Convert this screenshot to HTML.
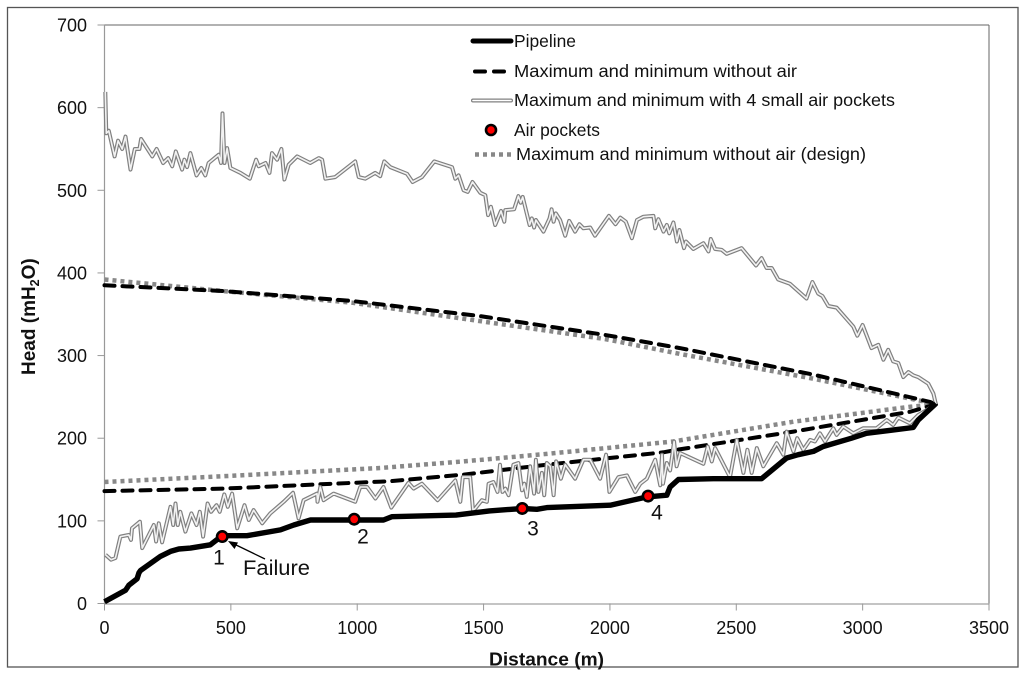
<!DOCTYPE html>
<html lang="en">
<head>
<meta charset="utf-8">
<title>Head versus distance along pipeline</title>
<style>
  html, body { margin: 0; padding: 0; background: #fff; }
  svg { display: block; font-family: "Liberation Sans", sans-serif; fill: #111; }
</style>
</head>
<body>
<svg id="chart" width="1024" height="676" viewBox="0 0 1024 676" xmlns="http://www.w3.org/2000/svg">
  <rect x="0" y="0" width="1024" height="676" fill="#fff"/>
  <rect x="7.5" y="7.5" width="1010.5" height="659.5" fill="none" stroke="#555" stroke-width="1.3"/>
  <g id="axes"></g>
  <g id="series"></g>

  <text x="489" y="665.5" font-size="18.5" font-weight="bold" textLength="115" lengthAdjust="spacingAndGlyphs">Distance (m)</text>
  <text transform="translate(35,375) rotate(-90)" font-size="19" font-weight="bold">Head (mH<tspan font-size="12.5" dy="4">2</tspan><tspan dy="-4">O)</tspan></text>

  <g>
    <line x1="473" y1="41" x2="511" y2="41" stroke="#000" stroke-width="5" stroke-linecap="round"/>
    <text x="514" y="47" font-size="17.5" textLength="62" lengthAdjust="spacingAndGlyphs">Pipeline</text>
    <line x1="475" y1="71.5" x2="510" y2="71.5" stroke="#000" stroke-width="4" stroke-linecap="round" stroke-dasharray="10 9"/>
    <text x="514" y="77" font-size="17.5" textLength="283" lengthAdjust="spacingAndGlyphs">Maximum and minimum without air</text>
    <line x1="473" y1="100.5" x2="511" y2="100.5" stroke="#808080" stroke-width="4" stroke-linecap="round"/>
    <line x1="473" y1="100.5" x2="511" y2="100.5" stroke="#fff" stroke-width="1.6" stroke-linecap="round"/>
    <text x="514" y="106" font-size="17.5" textLength="381" lengthAdjust="spacingAndGlyphs">Maximum and minimum with 4 small air pockets</text>
    <circle cx="491" cy="130" r="5" fill="#f00" stroke="#000" stroke-width="2.6"/>
    <text x="514" y="136" font-size="17.5" textLength="86" lengthAdjust="spacingAndGlyphs">Air pockets</text>
    <line x1="475" y1="154.5" x2="513" y2="154.5" stroke="#888" stroke-width="4.5" stroke-dasharray="4 4"/>
    <text x="516" y="160" font-size="17.5" textLength="350" lengthAdjust="spacingAndGlyphs">Maximum and minimum without air (design)</text>
  </g>

  <g>
    <text x="243" y="575" font-size="21" textLength="67" lengthAdjust="spacingAndGlyphs">Failure</text>
    <line x1="265" y1="559" x2="232" y2="543" stroke="#000" stroke-width="1.3"/>
    <polygon points="228,541 238,542.5 234.5,549" fill="#000"/>
  </g>

  <g id="pocket-labels" font-size="21" text-anchor="middle">
    <text x="219" y="564.5">1</text>
    <text x="363" y="543.5">2</text>
    <text x="533" y="535.5">3</text>
    <text x="657" y="519.5">4</text>
  </g>
</svg>

<script>
const xTickValues = [0, 500, 1000, 1500, 2000, 2500, 3000, 3500];
const yTickValues = [0, 100, 200, 300, 400, 500, 600, 700];

const pipelineDistance = [0, 83, 96, 129, 136, 143, 175, 221, 261, 294, 340, 419, 465, 564, 696, 749, 815, 1104, 1137, 1391, 1523, 1654, 1711, 1750, 2001, 2147, 2225, 2238, 2271, 2409, 2600, 2699, 2745, 2805, 2844, 2956, 3015, 3200, 3220, 3290];
const pipelineHead = [2, 16, 22, 30, 37, 40, 47, 57, 63, 66, 67, 71, 82, 82, 89, 95, 101, 101, 105, 107, 112, 115, 114, 116, 119, 129, 131, 141, 150, 151, 151, 176, 180, 184, 190, 200, 206, 213, 222, 242];

const noAirMaxDistance = [0, 471, 980, 1480, 1980, 2277, 2541, 2805, 3266, 3290];
const noAirMaxHead = [385, 378, 366, 348, 325, 309, 293, 277, 244, 241];
const noAirMinDistance = [0, 471, 1131, 1421, 1750, 2212, 2264, 2726, 3187, 3290];
const noAirMinHead = [136, 139, 148, 156, 168, 183, 186, 208, 232, 241];

const designMaxDistance = [0, 471, 980, 1480, 1980, 2277, 2805, 3266, 3290];
const designMaxHead = [392, 378, 364, 342, 320, 302, 272, 243, 241];
const designMinDistance = [0, 471, 1091, 1421, 1750, 2250, 2726, 3187, 3290];
const designMinHead = [147, 154, 164, 172, 181, 196, 220, 238, 241];

const airMaxDistance = [3, 7, 17, 40, 54, 70, 83, 103, 120, 138, 145, 189, 206, 232, 252, 268, 282, 307, 316, 327, 340, 364, 383, 399, 412, 452, 461, 467, 475, 485, 498, 538, 575, 590, 600, 610, 637, 653, 663, 683, 700, 712, 729, 762, 814, 848, 861, 874, 913, 992, 1006, 1032, 1071, 1091, 1107, 1131, 1197, 1219, 1256, 1305, 1375, 1388, 1401, 1421, 1437, 1456, 1487, 1507, 1518, 1529, 1546, 1569, 1582, 1586, 1621, 1638, 1647, 1655, 1682, 1691, 1700, 1707, 1737, 1761, 1769, 1777, 1786, 1803, 1823, 1839, 1862, 1879, 1895, 1922, 1941, 1996, 2022, 2041, 2063, 2087, 2107, 2133, 2172, 2179, 2192, 2212, 2225, 2235, 2251, 2265, 2275, 2293, 2301, 2330, 2370, 2390, 2399, 2416, 2442, 2462, 2521, 2578, 2600, 2620, 2640, 2666, 2712, 2778, 2801, 2824, 2841, 2864, 2897, 2963, 2979, 3000, 3035, 3062, 3082, 3101, 3121, 3141, 3161, 3181, 3201, 3220, 3260, 3280, 3290];
const airMaxHead = [619, 569, 572, 541, 560, 550, 565, 525, 550, 550, 562, 541, 550, 533, 539, 529, 547, 525, 537, 528, 545, 518, 527, 518, 533, 543, 533, 593, 533, 551, 527, 521, 514, 528, 537, 529, 533, 521, 545, 537, 550, 513, 531, 541, 533, 539, 537, 514, 516, 535, 516, 514, 521, 517, 535, 528, 520, 510, 516, 535, 528, 514, 518, 500, 498, 510, 497, 494, 470, 480, 458, 475, 462, 476, 477, 493, 485, 492, 458, 466, 455, 464, 450, 466, 477, 462, 472, 464, 445, 463, 450, 459, 454, 455, 445, 469, 459, 467, 462, 442, 464, 468, 469, 454, 465, 450, 458, 448, 461, 438, 452, 430, 438, 429, 436, 426, 441, 429, 428, 423, 430, 409, 418, 406, 406, 392, 387, 369, 389, 375, 372, 360, 358, 335, 324, 337, 309, 313, 295, 307, 293, 291, 274, 280, 276, 274, 266, 254, 241];

const airMinDistance = [4, 26, 43, 63, 96, 105, 109, 140, 149, 195, 204, 215, 228, 261, 272, 281, 290, 300, 320, 344, 364, 377, 390, 408, 422, 443, 456, 474, 488, 505, 525, 554, 571, 590, 624, 656, 709, 746, 768, 788, 841, 843, 854, 867, 907, 992, 1012, 1039, 1072, 1104, 1135, 1203, 1223, 1256, 1318, 1388, 1408, 1418, 1447, 1458, 1467, 1493, 1513, 1520, 1539, 1555, 1565, 1575, 1586, 1599, 1618, 1638, 1652, 1661, 1671, 1684, 1700, 1707, 1717, 1731, 1740, 1750, 1764, 1777, 1787, 1806, 1823, 1862, 1895, 1922, 1961, 1985, 1998, 2034, 2067, 2100, 2120, 2146, 2179, 2199, 2206, 2210, 2225, 2238, 2254, 2264, 2278, 2370, 2387, 2403, 2416, 2475, 2502, 2528, 2544, 2561, 2581, 2607, 2660, 2686, 2699, 2726, 2741, 2765, 2792, 2811, 2831, 2851, 2884, 2897, 2923, 2963, 3002, 3055, 3095, 3121, 3141, 3187, 3220, 3253, 3290];
const airMinHead = [59, 53, 55, 81, 83, 77, 91, 99, 67, 95, 75, 97, 74, 117, 95, 121, 95, 111, 87, 109, 95, 111, 81, 121, 111, 119, 111, 132, 117, 133, 91, 119, 101, 113, 97, 109, 123, 134, 103, 125, 133, 123, 141, 125, 133, 123, 141, 141, 127, 141, 116, 146, 139, 145, 125, 149, 123, 153, 153, 113, 115, 125, 123, 145, 147, 135, 168, 135, 139, 131, 168, 170, 137, 145, 129, 166, 133, 174, 135, 158, 131, 170, 166, 131, 172, 151, 168, 151, 174, 174, 151, 180, 135, 153, 155, 135, 145, 151, 174, 143, 180, 145, 170, 161, 196, 166, 182, 169, 190, 172, 188, 153, 198, 158, 186, 158, 188, 166, 194, 180, 208, 184, 200, 186, 198, 196, 206, 196, 212, 204, 214, 206, 212, 212, 222, 216, 225, 218, 228, 234, 241];

const airPocketDistance = [466, 988, 1653, 2151];
const airPocketHead = [81, 102, 115, 130];

const xScale = d => 104.5 + d * (884.5 / 3500);
const yScale = h => 603.5 - h * (578.5 / 700);
const SVG_NS = "http://www.w3.org/2000/svg";

const axesLayer = document.getElementById("axes");
const seriesLayer = document.getElementById("series");

function makeEl(tag, parent) {
  const el = document.createElementNS(SVG_NS, tag);
  parent.appendChild(el);
  return el;
}

function pointsFor(distances, heads) {
  return distances.map((d, i) => xScale(d).toFixed(1) + "," + yScale(heads[i]).toFixed(1)).join(" ");
}

function drawPolyline(parent, name, distances, heads, color, width, dash, cap) {
  const line = makeEl("polyline", parent);
  
  
  line.setAttribute("points", pointsFor(distances, heads));
  line.setAttribute("fill", "none");
  line.setAttribute("stroke", color);
  line.setAttribute("stroke-width", width);
  line.setAttribute("stroke-linejoin", "round");
  if (dash) line.setAttribute("stroke-dasharray", dash);
  if (cap) line.setAttribute("stroke-linecap", cap);
  return line;
}

/* plot border */
const plotTop = makeEl("line", axesLayer);


plotTop.setAttribute("x1", xScale(0));
plotTop.setAttribute("x2", xScale(3500));
plotTop.setAttribute("y1", yScale(700));
plotTop.setAttribute("y2", yScale(700));
plotTop.setAttribute("stroke", "#666");
plotTop.setAttribute("stroke-width", "1");

const plotRight = makeEl("line", axesLayer);


plotRight.setAttribute("x1", xScale(3500));
plotRight.setAttribute("x2", xScale(3500));
plotRight.setAttribute("y1", yScale(700));
plotRight.setAttribute("y2", yScale(0));
plotRight.setAttribute("stroke", "#666");
plotRight.setAttribute("stroke-width", "1");

const xAxisLine = makeEl("line", axesLayer);


xAxisLine.setAttribute("x1", xScale(0));
xAxisLine.setAttribute("x2", xScale(3500));
xAxisLine.setAttribute("y1", yScale(0) + 0.5);
xAxisLine.setAttribute("y2", yScale(0) + 0.5);
xAxisLine.setAttribute("stroke", "#b0b0b0");
xAxisLine.setAttribute("stroke-width", "1.6");

const yAxisLine = makeEl("line", axesLayer);


yAxisLine.setAttribute("x1", xScale(0));
yAxisLine.setAttribute("x2", xScale(0));
yAxisLine.setAttribute("y1", yScale(700));
yAxisLine.setAttribute("y2", yScale(0));
yAxisLine.setAttribute("stroke", "#999");
yAxisLine.setAttribute("stroke-width", "1.2");

xTickValues.forEach(v => {
  const tick = makeEl("line", axesLayer);
  
  
  tick.setAttribute("x1", xScale(v));
  tick.setAttribute("x2", xScale(v));
  tick.setAttribute("y1", yScale(0));
  tick.setAttribute("y2", yScale(0) + 7);
  tick.setAttribute("stroke", "#999");
  tick.setAttribute("stroke-width", "1");
  const label = makeEl("text", axesLayer);
  
  
  label.setAttribute("x", xScale(v));
  label.setAttribute("y", 634);
  label.setAttribute("text-anchor", "middle");
  label.setAttribute("font-size", "18");
  label.textContent = String(v);
});

yTickValues.forEach(v => {
  const tick = makeEl("line", axesLayer);
  
  
  tick.setAttribute("x1", xScale(0) - 7);
  tick.setAttribute("x2", xScale(0));
  tick.setAttribute("y1", yScale(v));
  tick.setAttribute("y2", yScale(v));
  tick.setAttribute("stroke", "#999");
  tick.setAttribute("stroke-width", "1");
  const label = makeEl("text", axesLayer);
  
  
  label.setAttribute("x", 87);
  label.setAttribute("y", yScale(v) + 6.5);
  label.setAttribute("text-anchor", "end");
  label.setAttribute("font-size", "18");
  label.textContent = String(v);
});

/* series */
drawPolyline(seriesLayer, "design-max-line", designMaxDistance, designMaxHead, "#888", 4.5, "4 4");
drawPolyline(seriesLayer, "design-min-line", designMinDistance, designMinHead, "#888", 4.5, "4 4");
drawPolyline(seriesLayer, "no-air-max-line", noAirMaxDistance, noAirMaxHead, "#000", 4, "10 8", "round");
drawPolyline(seriesLayer, "no-air-min-line", noAirMinDistance, noAirMinHead, "#000", 4, "10 8", "round");
drawPolyline(seriesLayer, "air-max-line-outer", airMaxDistance, airMaxHead, "#808080", 4);
drawPolyline(seriesLayer, "air-max-line-inner", airMaxDistance, airMaxHead, "#f2f2f2", 1.6);
drawPolyline(seriesLayer, "air-min-line-outer", airMinDistance, airMinHead, "#808080", 4);
drawPolyline(seriesLayer, "air-min-line-inner", airMinDistance, airMinHead, "#f2f2f2", 1.6);
drawPolyline(seriesLayer, "pipeline-line", pipelineDistance, pipelineHead, "#000", 5.4);

airPocketDistance.forEach((d, i) => {
  const dot = makeEl("circle", seriesLayer);
  
  
  dot.setAttribute("cx", xScale(d));
  dot.setAttribute("cy", yScale(airPocketHead[i]));
  dot.setAttribute("r", "5.2");
  dot.setAttribute("fill", "#f00");
  dot.setAttribute("stroke", "#000");
  dot.setAttribute("stroke-width", "2.6");
});
</script>
</body>
</html>
